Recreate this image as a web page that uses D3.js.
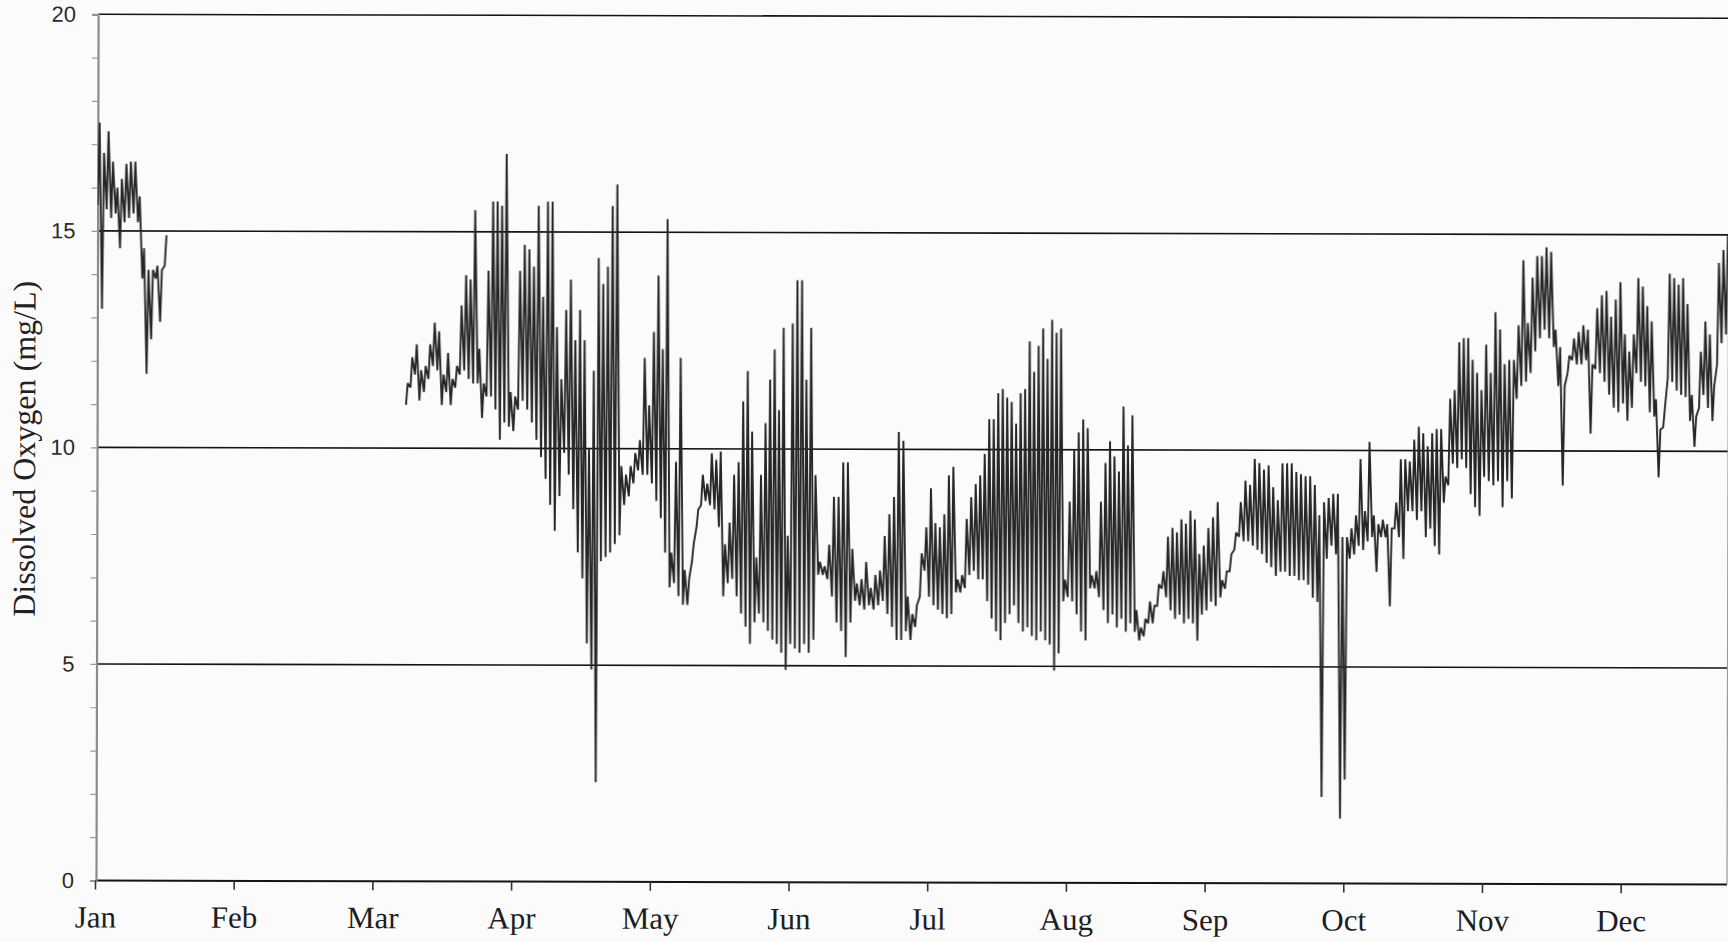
<!DOCTYPE html>
<html>
<head>
<meta charset="utf-8">
<script src="https://cdn.jsdelivr.net/npm/d3@7"></script>
<style>
  html, body { margin: 0; padding: 0; background: #fbfbfb; }
  svg { display: block; }
</style>
</head>
<body>
<svg id="chart" width="1728" height="942"></svg>
<script>
// Month labels along the bottom axis
const monthNames = ["Jan", "Feb", "Mar", "Apr", "May", "Jun", "Jul", "Aug", "Sep", "Oct", "Nov", "Dec"];
// Major y ticks with grid lines
const yTicks = [0, 5, 10, 15, 20];

// Daily low / high dissolved oxygen (mg/L). Each list starts at the given day of its month.
const janStart = 1;
const janLo = [15.6, 13.2, 15.5, 15.3, 15.4, 14.6, 15.2, 15.3, 15.4, 15.2, 13.9, 11.7, 12.5, 13.9, 12.9, 14.2];
const janHi = [17.5, 16.8, 17.3, 16.6, 16.0, 16.2, 16.55, 16.6, 16.6, 15.8, 14.6, 14.1, 14.1, 14.2, 14.1, 14.9];

const marStart = 8;
const marLo = [11.0, 11.4, 11.7, 11.1, 11.3, 11.6, 11.9, 11.8, 11.0, 11.3, 11.0, 11.4, 11.7, 11.8, 11.6, 11.5, 11.5, 10.7, 11.2, 11.2, 10.9, 10.2, 10.6, 10.5];
const marHi = [11.5, 12.1, 12.4, 11.8, 11.9, 12.4, 12.9, 12.7, 11.7, 12.2, 11.6, 11.9, 13.3, 14.0, 13.9, 15.5, 12.3, 11.5, 14.1, 15.7, 15.7, 15.6, 16.8, 11.3];

const aprLo = [10.4, 10.9, 11.1, 10.9, 10.6, 10.2, 9.8, 9.3, 8.7, 8.1, 8.9, 9.9, 9.4, 8.6, 7.6, 7.0, 5.5, 4.9, 2.3, 7.4, 7.5, 7.6, 7.8, 8.0, 8.7, 8.9, 9.2, 9.5, 9.4, 9.4];
const aprHi = [11.2, 14.1, 14.7, 14.6, 14.2, 15.6, 13.5, 15.7, 15.7, 12.8, 11.6, 13.2, 13.9, 12.5, 13.2, 12.5, 10.0, 11.8, 14.4, 13.8, 14.2, 15.6, 16.1, 9.6, 9.4, 9.6, 9.9, 10.2, 12.1, 11.0];

const mayLo = [9.2, 8.8, 8.4, 7.6, 6.8, 6.9, 6.6, 6.4, 6.4, 7.4, 8.2, 8.7, 8.8, 8.7, 8.6, 8.2, 6.6, 6.9, 7.0, 6.6, 6.2, 5.9, 5.5, 6.0, 6.2, 6.0, 5.8, 5.6, 5.5, 5.3, 4.9];
const mayHi = [12.7, 14.0, 12.3, 15.3, 7.6, 9.7, 12.1, 7.2, 7.0, 7.8, 8.6, 9.4, 9.2, 9.9, 9.75, 9.94, 7.8, 8.3, 9.4, 9.7, 11.1, 11.8, 10.4, 7.5, 9.4, 10.6, 11.6, 12.3, 10.9, 12.8, 8.0];

const junLo = [5.5, 5.4, 5.3, 5.5, 5.3, 5.6, 7.1, 7.1, 7.0, 6.6, 6.0, 5.8, 5.2, 6.0, 6.5, 6.4, 6.3, 6.4, 6.3, 6.4, 6.5, 6.2, 5.9, 5.6, 5.6, 5.8, 5.6, 5.9, 6.6, 7.2];
const junHi = [12.9, 13.9, 13.9, 11.6, 12.8, 9.4, 7.4, 7.3, 7.8, 8.9, 8.9, 9.7, 9.7, 7.7, 6.9, 7.0, 7.4, 6.8, 7.1, 7.2, 8.0, 8.5, 8.9, 10.4, 10.2, 6.6, 6.2, 6.4, 7.6, 8.2];

const julLo = [6.6, 6.4, 6.3, 6.2, 6.1, 6.2, 6.7, 6.7, 6.8, 7.1, 7.2, 7.0, 7.0, 6.5, 6.1, 5.8, 5.6, 6.0, 6.2, 6.4, 6.0, 5.8, 5.9, 5.7, 5.6, 5.8, 5.6, 5.5, 4.9, 5.3, 6.5];
const julHi = [9.1, 8.3, 8.2, 8.5, 9.4, 9.6, 7.0, 7.1, 8.4, 8.9, 9.2, 9.4, 9.9, 10.7, 10.7, 11.3, 11.4, 11.2, 11.1, 10.6, 11.3, 11.4, 12.5, 11.8, 12.4, 12.8, 12.1, 13.0, 12.7, 12.8, 7.0];

const augLo = [6.6, 6.5, 6.2, 5.8, 5.6, 6.8, 6.8, 6.6, 6.3, 6.0, 6.2, 5.9, 6.1, 5.8, 6.0, 5.8, 5.6, 5.7, 6.0, 6.0, 6.4, 6.8, 6.6, 6.3, 6.1, 6.2, 6.0, 6.1, 6.0, 5.6, 6.2];
const augHi = [8.8, 10.0, 10.4, 10.7, 10.5, 7.1, 7.2, 8.8, 9.7, 10.2, 9.85, 9.5, 11.0, 10.1, 10.8, 6.3, 5.9, 6.1, 6.5, 6.4, 6.9, 7.2, 8.0, 8.2, 8.1, 8.4, 8.3, 8.6, 8.4, 7.6, 7.8];

const sepLo = [6.3, 6.5, 6.4, 6.6, 6.8, 7.2, 7.7, 8.0, 7.9, 7.9, 7.8, 7.7, 7.6, 7.4, 7.3, 7.1, 7.2, 7.2, 7.1, 7.1, 7.0, 7.0, 6.9, 6.6, 6.5, 2.0, 7.5, 7.8, 7.6, 1.5];
const sepHi = [8.2, 8.45, 8.8, 7.0, 7.2, 7.6, 8.1, 8.8, 9.3, 9.2, 9.8, 9.7, 9.55, 9.65, 9.15, 8.85, 9.7, 9.7, 9.7, 9.5, 9.45, 9.4, 9.4, 9.2, 8.5, 8.8, 8.9, 9.0, 9.0, 8.0];

const octLo = [2.4, 7.5, 7.6, 7.8, 7.7, 7.9, 8.0, 7.2, 8.0, 8.0, 6.4, 8.2, 8.0, 7.5, 8.6, 8.6, 8.4, 8.6, 8.0, 8.2, 7.8, 7.6, 8.8, 9.2, 9.7, 9.6, 9.8, 9.6, 9.0, 8.7, 8.5];
const octHi = [8.0, 8.2, 8.5, 9.8, 8.6, 10.2, 8.5, 8.3, 8.4, 8.3, 8.2, 8.8, 9.8, 9.8, 9.75, 10.25, 10.55, 10.4, 10.1, 10.4, 10.5, 10.5, 9.4, 11.2, 11.4, 12.5, 12.6, 12.6, 12.1, 11.8, 11.4];

const novLo = [9.4, 9.3, 9.2, 9.3, 8.7, 9.3, 8.9, 11.2, 11.5, 11.6, 11.8, 12.3, 12.6, 12.8, 12.6, 12.4, 11.5, 9.2, 11.8, 12.1, 12.0, 12.0, 12.1, 10.4, 11.9, 11.8, 11.6, 11.3, 11.0, 10.9];
const novHi = [12.45, 11.8, 13.2, 12.8, 12.0, 12.1, 12.1, 12.9, 14.4, 12.95, 14.0, 14.5, 14.5, 14.7, 14.6, 12.8, 12.4, 11.5, 12.2, 12.6, 12.75, 12.9, 12.8, 12.0, 13.3, 13.6, 13.7, 13.1, 13.5, 13.9];

const decLo = [11.1, 10.7, 11.0, 11.8, 11.6, 11.5, 10.9, 10.8, 9.4, 10.55, 11.7, 11.6, 11.4, 11.3, 11.25, 10.7, 10.1, 11.0, 11.3, 11.0, 10.7, 12.0, 12.5, 12.7];
const decHi = [12.7, 12.3, 12.7, 14.0, 13.8, 13.35, 13.0, 11.2, 10.5, 11.0, 14.1, 14.0, 13.85, 14.0, 13.4, 11.3, 10.8, 12.3, 13.0, 12.7, 11.5, 14.35, 14.65, 15.0];

// ---- layout ----
const year = 2001;
const plotLeft = 96, plotRight = 1727, plotTop = 14.3, plotBottom = 880.5;
const monthStep = 138.7;      // months are spaced evenly on the axis
const firstTickX = 95;

const monthStarts = d3.range(13).map(m => new Date(year, m, 1));
const x = d3.scaleTime()
  .domain(monthStarts)
  .range(monthStarts.map((d, i) => firstTickX + i * monthStep));
const y = d3.scaleLinear().domain([0, 20]).range([plotBottom, plotTop]);

// Low reading in the early morning, high reading in the afternoon
function dailyPoints(month, firstDay, lo, hi) {
  const pts = [];
  lo.forEach((v, i) => {
    const day = firstDay + i;
    pts.push({ t: new Date(year, month, day, 6), v: v });
    pts.push({ t: new Date(year, month, day, 15), v: hi[i] });
  });
  return pts;
}

const winterRun = dailyPoints(0, janStart, janLo, janHi);
const mainRun = [].concat(
  dailyPoints(2, marStart, marLo, marHi),
  dailyPoints(3, 1, aprLo, aprHi),
  dailyPoints(4, 1, mayLo, mayHi),
  dailyPoints(5, 1, junLo, junHi),
  dailyPoints(6, 1, julLo, julHi),
  dailyPoints(7, 1, augLo, augHi),
  dailyPoints(8, 1, sepLo, sepHi),
  dailyPoints(9, 1, octLo, octHi),
  dailyPoints(10, 1, novLo, novHi),
  dailyPoints(11, 1, decLo, decHi)
);

const svg = d3.select("#chart");
const defs = svg.append("defs");
defs.append("clipPath").attr("id", "plotClip")
  .append("rect")
  .attr("x", plotLeft).attr("y", plotTop - 2)
  .attr("width", plotRight - plotLeft).attr("height", plotBottom - plotTop + 4);
defs.append("filter").attr("id", "soft")
  .append("feGaussianBlur").attr("stdDeviation", 0.35);

const root = svg.append("g").attr("transform", `rotate(0.14 ${plotLeft} ${plotBottom})`);

// horizontal grid lines at the major ticks
root.append("g").selectAll("line")
  .data(yTicks)
  .join("line")
  .attr("x1", plotLeft).attr("x2", plotRight)
  .attr("y1", d => y(d)).attr("y2", d => y(d))
  .attr("stroke", "#141414")
  .attr("stroke-width", d => d === 0 ? 2 : 1.6);

// right border of the plot area
root.append("line")
  .attr("x1", plotRight).attr("x2", plotRight)
  .attr("y1", plotTop).attr("y2", plotBottom)
  .attr("stroke", "#9a9a9a").attr("stroke-width", 1.2);

// minor y ticks every 1 mg/L
const yMinor = d3.axisLeft(y).tickValues(d3.range(0, 21)).tickSize(6).tickFormat("");
const yMinorG = root.append("g").attr("transform", `translate(${plotLeft},0)`).call(yMinor);
yMinorG.select(".domain").attr("stroke", "#8c8c8c").attr("stroke-width", 2.2);
yMinorG.selectAll(".tick line").attr("stroke", "#9a9a9a").attr("stroke-width", 1.2);

// y tick labels
const yAxis = d3.axisLeft(y).tickValues(yTicks).tickSize(0).tickPadding(22).tickFormat(d3.format("d"));
const yAxisG = root.append("g").attr("transform", `translate(${plotLeft},0)`).call(yAxis);
yAxisG.select(".domain").remove();
yAxisG.selectAll("text")
  .attr("font-family", "'Liberation Sans', Arial, sans-serif")
  .attr("font-size", 22)
  .attr("fill", "#2a2a2a");

// x axis with month ticks
const xAxis = d3.axisBottom(x)
  .tickValues(monthStarts.slice(0, 12))
  .tickSize(9)
  .tickPadding(16)
  .tickFormat((d, i) => monthNames[i]);
const xAxisG = root.append("g").attr("transform", `translate(0,${plotBottom})`).call(xAxis);
xAxisG.select(".domain").remove();
xAxisG.selectAll(".tick line").attr("stroke", "#333").attr("stroke-width", 1.6);
xAxisG.selectAll("text")
  .attr("font-family", "'Liberation Serif', 'Times New Roman', serif")
  .attr("font-size", 31)
  .attr("fill", "#1e1e1e");

// y axis title
root.append("text")
  .attr("transform", `translate(34,449) rotate(-90)`)
  .attr("text-anchor", "middle")
  .attr("font-family", "'Liberation Serif', 'Times New Roman', serif")
  .attr("font-size", 32)
  .attr("fill", "#222")
  .text("Dissolved Oxygen (mg/L)");

// dissolved oxygen series
const line = d3.line().x(d => x(d.t)).y(d => y(d.v));
const series = root.append("g").attr("clip-path", "url(#plotClip)").attr("filter", "url(#soft)");
[winterRun, mainRun].forEach(run => {
  series.append("path")
    .datum(run)
    .attr("d", line)
    .attr("fill", "none")
    .attr("stroke", "#262626")
    .attr("stroke-width", 1.9)
    .attr("stroke-linejoin", "miter")
    .attr("stroke-miterlimit", 2);
});
</script>
</body>
</html>
